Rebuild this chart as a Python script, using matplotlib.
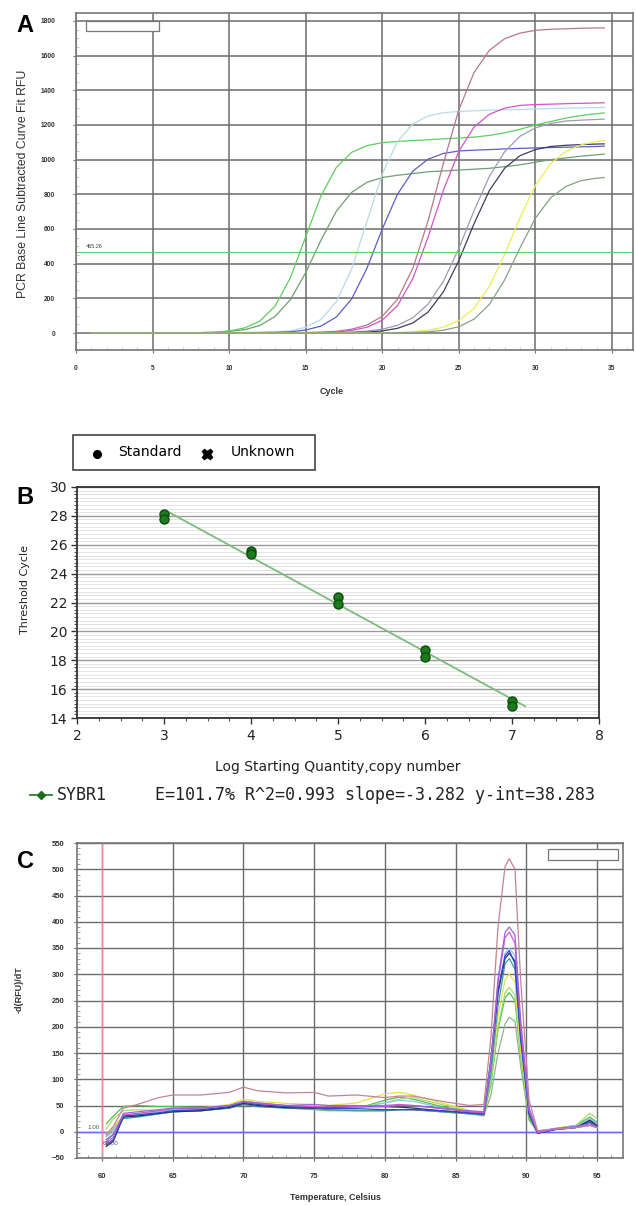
import numpy as np
import matplotlib
matplotlib.use('Agg')
import matplotlib.pyplot as plt
from matplotlib.patches import Rectangle
from matplotlib.lines import Line2D
from matplotlib.ticker import MultipleLocator
from matplotlib import font_manager

# ---------------- data: panel A (amplification) ----------------
cycles = list(range(1, 35)) + [34.5]
amp_green_bright = [2,2,1,1,0,0,1,2,5,12,29,68,155,318,555,791,955,1042,1081,1098,
                    1105,1110,1115,1120,1125,1130,1140,1155,1175,1200,1220,1240,1255,1265,1270]
amp_green_mid = [1,1,0,0,0,1,1,2,4,9,19,43,95,192,348,535,702,811,869,897,
                 910,920,930,935,940,945,950,960,970,985,1000,1010,1020,1028,1032]
amp_pale_blue = [0,0,0,0,0,0,0,1,1,2,3,4,6,13,33,78,180,369,642,916,1105,1206,1252,1271,
                 1278,1282,1285,1288,1290,1292,1295,1297,1299,1300,1302]
amp_blue = [0,0,0,0,0,0,0,0,1,1,2,3,4,7,17,40,92,196,373,599,801,934,1003,1036,1050,
            1055,1058,1062,1065,1068,1070,1072,1074,1076,1078]
amp_mauve = [0,0,0,0,0,0,0,0,0,0,0,0,1,2,3,5,10,22,46,96,195,373,648,980,1287,1503,1631,1698,1730,1746,
             1752,1755,1758,1760,1760]
amp_magenta = [0,0,0,0,0,0,0,0,0,0,0,0,1,1,2,3,6,15,33,74,158,314,554,824,1048,1188,1262,1297,1313,
               1318,1320,1323,1325,1327,1328]
amp_lavender = [0,0,0,0,0,0,0,0,0,0,0,0,0,0,1,2,3,5,11,22,44,88,167,299,487,706,903,1046,1135,1183,1209,1223,1228,
                1232,1234]
amp_navy = [0,0,0,0,0,0,0,0,0,0,0,0,0,0,0,1,2,3,5,12,27,58,121,238,417,631,822,951,1023,1058,1076,
            1083,1087,1090,1091]
amp_yellow = [0,0,0,0,0,0,0,0,0,0,0,0,0,0,0,0,0,1,1,2,3,8,16,34,71,143,269,455,665,851,977,1048,1086,1104,1110]
amp_graygreen = [0,0,0,0,0,0,0,0,0,0,0,0,0,0,0,0,0,0,1,1,2,3,7,16,36,80,165,307,491,662,780,846,879,893,897]
threshold = 465.26

# ---------------- data: panel B (standard curve) ----------------
log_qty = [3, 3, 4, 4, 5, 5, 6, 6, 7, 7]
ct_values = [28.15, 27.8, 25.6, 25.35, 22.4, 21.9, 18.7, 18.25, 15.2, 14.8]
fit_slope = -3.282
fit_intercept = 38.283
fit_range = [3.05, 7.15]
fit_text = "E=101.7% R^2=0.993 slope=-3.282 y-int=38.283"

# ---------------- data: panel C (melt curves) ----------------
temps = [60.3, 60.8, 61.5, 62.5, 64, 65, 67, 69, 70, 71, 73, 75, 76, 78, 80, 81, 82, 84, 86, 87,
         87.5, 88, 88.5, 88.8, 89.2, 89.6, 90.2, 90.8, 92, 93.5, 94.5, 95]
melt_mauve = [-5, 10, 45, 52, 65, 70, 70, 75, 85, 78, 74, 75, 68, 70, 65, 68, 68, 58, 50, 52,
              180, 390, 505, 520, 500, 290, 60, 2, 5, 8, 12, 8]
melt_violet = [-22, -10, 35, 38, 42, 45, 45, 50, 58, 55, 50, 52, 50, 50, 48, 50, 50, 45, 40, 38,
               135, 290, 380, 390, 375, 215, 45, 0, 6, 10, 15, 10]
melt_magenta = [-18, -5, 32, 35, 40, 44, 45, 50, 57, 54, 50, 48, 47, 48, 50, 52, 50, 44, 38, 36,
                130, 285, 370, 380, 360, 200, 40, -2, 5, 8, 12, 8]
melt_lightblue = [-10, 0, 30, 33, 38, 42, 44, 48, 55, 52, 48, 46, 45, 44, 55, 60, 58, 46, 37, 35,
                  125, 260, 340, 350, 335, 190, 38, 0, 5, 10, 25, 15]
melt_blue = [-25, -15, 30, 32, 36, 40, 42, 48, 56, 52, 48, 46, 44, 44, 42, 42, 42, 40, 36, 34,
             140, 270, 335, 345, 320, 180, 35, -3, 4, 8, 18, 10]
melt_navy = [-28, -18, 28, 30, 35, 38, 40, 46, 54, 50, 46, 45, 46, 48, 48, 47, 45, 40, 36, 34,
             130, 265, 330, 340, 325, 185, 35, -3, 4, 8, 22, 12]
melt_teal = [-15, -5, 25, 28, 34, 38, 40, 45, 52, 48, 45, 44, 42, 40, 40, 42, 42, 38, 34, 32,
             110, 240, 320, 330, 310, 175, 30, -2, 5, 9, 20, 12]
melt_yellow = [-5, 10, 30, 33, 38, 42, 45, 52, 62, 58, 54, 52, 50, 55, 72, 75, 70, 55, 40, 36,
               110, 220, 290, 300, 285, 160, 30, 0, 5, 8, 15, 8]
melt_lightgreen = [5, 25, 40, 42, 40, 42, 44, 50, 58, 55, 50, 48, 46, 46, 55, 62, 65, 52, 40, 35,
                   95, 200, 265, 275, 260, 150, 28, 2, 6, 12, 35, 25]
melt_green = [15, 30, 48, 50, 48, 48, 46, 50, 56, 52, 48, 46, 45, 44, 60, 66, 62, 48, 38, 33,
              90, 195, 255, 265, 250, 145, 25, 0, 6, 12, 28, 18]
melt_graygreen = [-8, 5, 28, 30, 34, 38, 40, 45, 52, 48, 45, 42, 40, 40, 40, 42, 42, 38, 34, 30,
                  70, 150, 205, 218, 210, 125, 22, 0, 5, 10, 22, 12]

# ---------------- figure ----------------
W, H = 636, 1205
plt.rcParams['font.family'] = ['Liberation Sans', 'DejaVu Sans']
fig = plt.figure(figsize=(W / 100, H / 100), dpi=100)

names = {f.name for f in font_manager.fontManager.ttflist}
NARROW = ['Liberation Sans Narrow', 'DejaVu Sans'] if 'Liberation Sans Narrow' in names else ['DejaVu Sans']
nsz = 12 if 'Liberation Sans Narrow' in names else 10


def box(l, t, r, b):
    return [l / W, (H - b) / H, (r - l) / W, (b - t) / H]


def ftext(x, y, s, **kw):
    return fig.text(x / W, 1 - y / H, s, **kw)


# ================= Panel A =================
axA = fig.add_axes(box(76, 13, 633, 350))
amp_series = [
    (amp_green_mid, '#6f9f72'), (amp_green_bright, '#5ccf5c'), (amp_pale_blue, '#b6dbe6'),
    (amp_blue, '#5a5fc4'), (amp_mauve, '#b27a8a'), (amp_magenta, '#d653c9'),
    (amp_lavender, '#9d9cb6'), (amp_navy, '#3e3e60'), (amp_yellow, '#ecec55'),
    (amp_graygreen, '#82a482'),
]
for vals, col in amp_series:
    axA.plot(cycles, vals, color=col, lw=0.9)
axA.axhline(threshold, color='#6acb6a', lw=0.8)
axA.text(0.65, threshold + 18, f'{threshold:.2f}', fontsize=4, color='#444', va='bottom')
axA.set_xlim(0, 36.38)
axA.set_ylim(-98, 1846)
axA.set_xticks(range(0, 36, 5))
axA.set_yticks(range(0, 1801, 200))
axA.xaxis.set_minor_locator(MultipleLocator(1))
axA.yaxis.set_minor_locator(MultipleLocator(50))
axA.grid(True, which='major', color='#6b6b6b', lw=1.1)
axA.set_axisbelow(True)
axA.tick_params(which='major', labelsize=4.8, labelcolor='#333', length=2, color='#777')
axA.tick_params(axis='y', pad=13)
axA.tick_params(axis='x', pad=9)
axA.tick_params(which='minor', direction='in', length=2, color='#bbb')
for lab in axA.get_xticklabels() + axA.get_yticklabels():
    lab.set_fontweight('bold')
for sp in axA.spines.values():
    sp.set_color('#777')
    sp.set_linewidth(1.2)
axA.add_patch(Rectangle((0.018, 0.947), 0.131, 0.029, transform=axA.transAxes,
                        facecolor='white', edgecolor='#777', lw=0.9, zorder=5))
ftext(332, 392, 'Cycle', fontsize=6.5, fontweight='bold', color='#333', ha='center', va='center')
ftext(23, 184, 'PCR Base Line Subtracted Curve Fit RFU', fontsize=8.8, color='#333',
      rotation=90, ha='center', va='center')
ftext(25, 25, 'A', fontsize=17, fontweight='bold', ha='center', va='center')

# ================= Panel B =================
axB = fig.add_axes(box(77, 487, 599, 718))
axB.plot(fit_range, [fit_slope * x + fit_intercept for x in fit_range], color='#7dbb7d', lw=1.3, zorder=3)
axB.plot(log_qty, ct_values, 'o', ms=6.5, mfc='#1d7a1d', mec='#0b4d0b', mew=1.0, zorder=4)
axB.set_xlim(2, 8)
axB.set_ylim(14, 30)
axB.set_xticks(range(2, 9))
axB.set_yticks(range(14, 31, 2))
axB.xaxis.set_minor_locator(MultipleLocator(0.25))
axB.yaxis.set_minor_locator(MultipleLocator(0.25))
axB.grid(True, which='major', axis='y', color='#9a9a9a', lw=1.0)
axB.grid(True, which='minor', axis='y', color='#dedede', lw=0.6)
axB.set_axisbelow(True)
axB.tick_params(which='major', length=4, color='#333', width=1.0, labelsize=nsz, labelcolor='#222')
axB.tick_params(which='minor', length=2.5, color='#555', width=0.8)
axB.tick_params(axis='y', pad=3)
axB.tick_params(axis='x', pad=4)
for lab in axB.get_xticklabels() + axB.get_yticklabels():
    lab.set_family(NARROW)
for sp in axB.spines.values():
    sp.set_color('#333')
    sp.set_linewidth(1.3)
ftext(338, 767, 'Log Starting Quantity,copy number', fontsize=nsz, family=NARROW,
      color='#222', ha='center', va='center')
ftext(25, 590, 'Threshold Cycle', fontsize=nsz - 2, family=NARROW, color='#222',
      rotation=90, ha='center', va='center')
ftext(25, 497, 'B', fontsize=17, fontweight='bold', ha='center', va='center')

# legend of panel B
fig.patches.append(Rectangle((73 / W, 1 - 470 / H), (315 - 73) / W, 35 / H, transform=fig.transFigure,
                             facecolor='white', edgecolor='#333', lw=1.1))
fig.lines.append(Line2D([97 / W], [1 - 454 / H], transform=fig.transFigure, marker='o', ms=5.5,
                        color='black', ls='none'))
ftext(118, 452, 'Standard', fontsize=nsz, family=NARROW, ha='left', va='center')
fig.lines.append(Line2D([207 / W], [1 - 454 / H], transform=fig.transFigure, marker='X', ms=7.5,
                        color='black', ls='none'))
ftext(231, 452, 'Unknown', fontsize=nsz, family=NARROW, ha='left', va='center')

# fit annotation
fig.lines.append(Line2D([30 / W, 52 / W], [1 - 795 / H, 1 - 795 / H], transform=fig.transFigure,
                        color='#2e7d2e', lw=1.3))
fig.lines.append(Line2D([41 / W], [1 - 795 / H], transform=fig.transFigure, marker='D', ms=4.5,
                        color='#1d6b1d', ls='none'))
ftext(57, 795, 'SYBR1', fontsize=12, family=['DejaVu Sans Mono'], color='#222', ha='left', va='center')
ftext(155, 795, fit_text, fontsize=12, family=['DejaVu Sans Mono'], color='#222', ha='left', va='center')

# ================= Panel C =================
axC = fig.add_axes(box(77, 843, 623, 1158))
melt_series = [
    (melt_graygreen, '#8fb38f'), (melt_green, '#55bb55'), (melt_lightgreen, '#a6dd66'),
    (melt_yellow, '#e2e244'), (melt_teal, '#3a9a9a'), (melt_lightblue, '#88c8ee'),
    (melt_navy, '#25305f'), (melt_blue, '#3344cc'), (melt_magenta, '#cc55cc'),
    (melt_violet, '#9966dd'), (melt_mauve, '#c48494'),
]
for vals, col in melt_series:
    axC.plot(temps, vals, color=col, lw=0.9)
axC.axhline(0, color='#6a6aff', lw=1.0, zorder=1.5)
axC.axvline(60, color='#e59090', lw=0.9, zorder=1.5)
axC.text(59.85, 4, '1.00', fontsize=4.5, color='#555', ha='right', va='bottom')
axC.text(60.05, -22, '60.00', fontsize=4.5, color='#555', ha='left', va='center')
axC.set_xlim(58.23, 96.84)
axC.set_ylim(-50, 550)
axC.set_xticks(range(60, 96, 5))
axC.set_yticks(range(-50, 551, 50))
axC.xaxis.set_minor_locator(MultipleLocator(1))
axC.yaxis.set_minor_locator(MultipleLocator(10))
axC.grid(True, which='major', color='#6b6b6b', lw=1.0)
axC.set_axisbelow(True)
axC.tick_params(which='major', labelsize=5.5, labelcolor='#333', length=2, color='#666')
axC.tick_params(axis='y', pad=7)
axC.tick_params(axis='x', pad=9)
axC.tick_params(which='minor', direction='in', length=2.5, color='#888')
for lab in axC.get_xticklabels() + axC.get_yticklabels():
    lab.set_fontweight('bold')
for sp in axC.spines.values():
    sp.set_color('#777')
    sp.set_linewidth(1.2)
axC.add_patch(Rectangle((0.863, 0.946), 0.128, 0.035, transform=axC.transAxes,
                        facecolor='white', edgecolor='#777', lw=0.9, zorder=5))
ftext(335, 1198, 'Temperature, Celsius', fontsize=6.5, fontweight='bold', color='#333',
      ha='center', va='center')
ftext(19, 990, '-d(RFU)/dT', fontsize=6.5, fontweight='bold', color='#333',
      rotation=90, ha='center', va='center')
ftext(25, 862, 'C', fontsize=17, fontweight='bold', ha='center', va='center')

fig.savefig('out.png', dpi=100, facecolor='white')
